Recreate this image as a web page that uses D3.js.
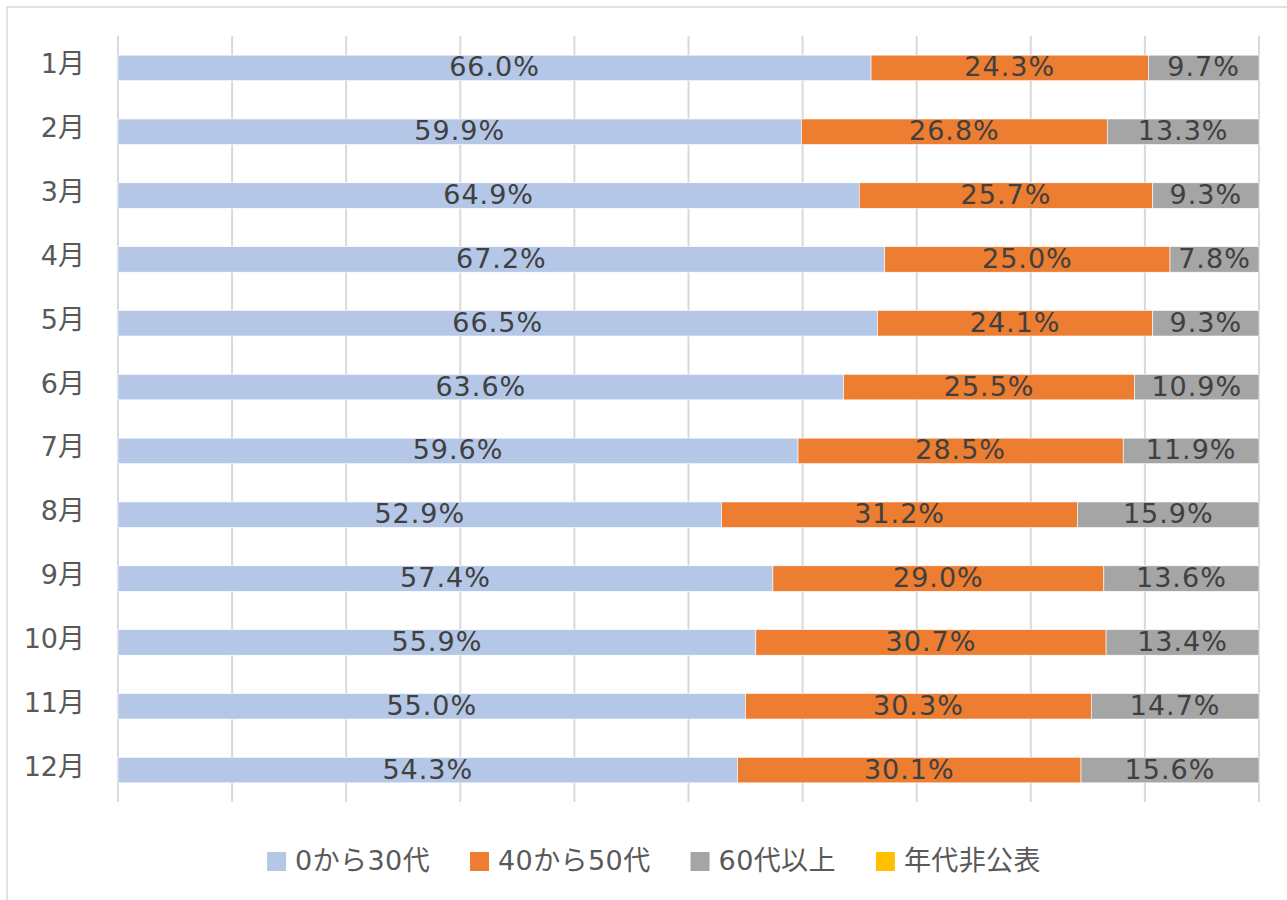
<!DOCTYPE html>
<html>
<head>
<meta charset="utf-8">
<script src="https://cdn.jsdelivr.net/npm/d3@7"></script>
<style>
  body { margin: 0; background: #fff; }
  text { font-family: "DejaVu Sans", "Noto Sans CJK JP", sans-serif; }
</style>
</head>
<body>
<script>
const months = ["1月","2月","3月","4月","5月","6月","7月","8月","9月","10月","11月","12月"];
const seriesNames = ["0から30代","40から50代","60代以上","年代非公表"];
const young = [66.0, 59.9, 64.9, 67.2, 66.5, 63.6, 59.6, 52.9, 57.4, 55.9, 55.0, 54.3];
const middle = [24.3, 26.8, 25.7, 25.0, 24.1, 25.5, 28.5, 31.2, 29.0, 30.7, 30.3, 30.1];
const senior = [9.7, 13.3, 9.3, 7.8, 9.3, 10.9, 11.9, 15.9, 13.6, 13.4, 14.7, 15.6];
const unknown = [0, 0, 0, 0, 0, 0, 0, 0, 0, 0, 0, 0];
const ticks = [0,10,20,30,40,50,60,70,80,90,100];
const colors = ["#B4C7E7","#ED7D31","#A5A5A5","#FFC000"];

function draw(){
        const width = 1287, height = 900,
              left = 118, right = 1259,
              top = 36, bottom = 802;

        const svg = d3.select('body')
                .append('svg')
                .attr('width', width)
                .attr('height', height);

        // chart frame
        svg.append('rect')
        .attr('x', 7).attr('y', 7)
        .attr('width', 1290).attr('height', 900)
        .attr('fill', 'none')
        .attr('stroke', '#d9d9d9')
        .attr('stroke-width', 1.5);

        const rows = months.map((m, i) => {
                const vals = [young[i], middle[i], senior[i], unknown[i]];
                const total = d3.sum(vals);
                let acc = 0;
                return {
                        month: m,
                        segs: vals.map((v, k) => {
                                const s = {k: k, v: v, x0: acc / total, x1: (acc + v) / total};
                                acc += v;
                                return s;
                        })
                };
        });

        const x = d3.scaleLinear()
                .domain([0, 100])
                .range([left, right]);

        const y = d3.scaleBand()
                .domain(months)
                .range([top, bottom])
                .paddingInner(0.6)
                .paddingOuter(0.3);

        // gridlines
        svg.append('g')
        .selectAll('line')
        .data(ticks)
        .enter()
        .append('line')
        .attr('x1', d => x(d)).attr('x2', d => x(d))
        .attr('y1', top).attr('y2', bottom)
        .attr('stroke', '#d9d9d9')
        .attr('stroke-width', 2);

        // month labels
        svg.append('g')
        .selectAll('text')
        .data(months)
        .enter()
        .append('text')
        .attr('x', 85)
        .attr('y', d => y(d) + y.bandwidth() / 2 - 4)
        .attr('dy', '0.35em')
        .attr('text-anchor', 'end')
        .attr('fill', '#595959')
        .attr('font-size', 27)
        .text(d => d);

        const row = svg.append('g')
                .selectAll('g')
                .data(rows)
                .enter()
                .append('g')
                .attr('transform', d => "translate(0," + y(d.month) + ")");

        row.selectAll('rect')
        .data(d => d.segs.filter(s => s.v > 0))
        .enter()
        .append('rect')
        .attr('x', s => x(s.x0 * 100))
        .attr('width', s => x(s.x1 * 100) - x(s.x0 * 100))
        .attr('height', y.bandwidth())
        .attr('fill', s => colors[s.k])
        .attr('stroke', '#fff')
        .attr('stroke-width', 0.6);

        row.selectAll('text')
        .data(d => d.segs.filter(s => s.v > 0))
        .enter()
        .append('text')
        .attr('x', s => (x(s.x0 * 100) + x(s.x1 * 100)) / 2)
        .attr('y', y.bandwidth() / 2 - 1)
        .attr('dy', '0.35em')
        .attr('text-anchor', 'middle')
        .attr('fill', '#404040')
        .attr('font-size', 27)
        .attr('letter-spacing', 1)
        .text(s => s.v.toFixed(1) + '%');

        // legend
        const legend = svg.append('g');
        const items = legend.selectAll('g')
                .data(seriesNames)
                .enter()
                .append('g');

        items.append('rect')
        .attr('width', 19).attr('height', 19)
        .attr('y', 852)
        .attr('fill', (d, i) => colors[i]);

        items.append('text')
        .attr('x', 28)
        .attr('y', 861)
        .attr('dy', '0.35em')
        .attr('fill', '#595959')
        .attr('font-size', 27)
        .attr('letter-spacing', 0.4)
        .text(d => d);

        let pos = 0;
        const offsets = [];
        items.each(function(){
                offsets.push(pos);
                pos += 28 + this.querySelector('text').getComputedTextLength() + 40;
        });
        const total = pos - 40;
        const start = 654 - total / 2;
        items.attr('transform', (d, i) => "translate(" + (start + offsets[i]) + ",0)");
}

draw();
</script>
</body>
</html>
